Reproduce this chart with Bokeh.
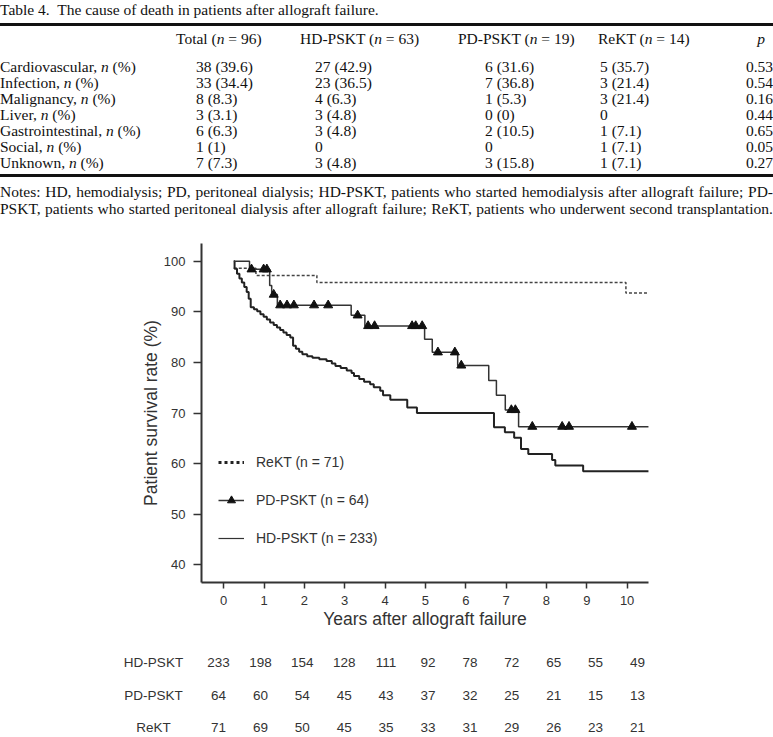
import numpy as np
from bokeh.plotting import figure
from bokeh.models import Range1d, FixedTicker, Legend, LegendItem, Div, ColumnDataSource
from bokeh.layouts import column
from bokeh.core.properties import value
from bokeh.embed import file_html
from bokeh.resources import INLINE

# ---------------- table data ----------------
CAPTION = "Table 4.&nbsp; The cause of death in patients after allograft failure."
GROUPS = ["Total", "HD-PSKT", "PD-PSKT", "ReKT"]
GROUP_N = [96, 63, 19, 14]
CAUSES = ["Cardiovascular", "Infection", "Malignancy", "Liver",
          "Gastrointestinal", "Social", "Unknown"]
TOTAL = ["38 (39.6)", "33 (34.4)", "8 (8.3)", "3 (3.1)", "6 (6.3)", "1 (1)", "7 (7.3)"]
HD_DEATHS = ["27 (42.9)", "23 (36.5)", "4 (6.3)", "3 (4.8)", "3 (4.8)", "0", "3 (4.8)"]
PD_DEATHS = ["6 (31.6)", "7 (36.8)", "1 (5.3)", "0 (0)", "2 (10.5)", "0", "3 (15.8)"]
REKT_DEATHS = ["5 (35.7)", "3 (21.4)", "3 (21.4)", "0", "1 (7.1)", "1 (7.1)", "1 (7.1)"]
P_VALUES = ["0.53", "0.54", "0.16", "0.44", "0.65", "0.05", "0.27"]
NOTES = ["Notes: HD, hemodialysis; PD, peritoneal dialysis; HD-PSKT, patients who started hemodialysis after allograft failure; PD-",
         "PSKT, patients who started peritoneal dialysis after allograft failure; ReKT, patients who underwent second transplantation."]

# ---------------- survival curves (years, %) ----------------
HD_T = [0.25, 0.27, 0.33, 0.39, 0.45, 0.51, 0.57, 0.62, 0.67, 0.75, 0.83, 0.91, 0.99, 1.07,
        1.15, 1.24, 1.32, 1.40, 1.48, 1.56, 1.65, 1.72, 1.79, 1.87, 1.95, 2.07, 2.20, 2.37,
        2.55, 2.68, 2.77, 2.90, 3.05, 3.17, 3.23, 3.36, 3.48, 3.63, 3.72, 3.88, 3.95, 4.13,
        4.55, 4.79, 6.70, 6.97, 7.20, 7.37, 7.55, 8.14, 8.22, 8.91]
HD_S = [100, 98.5, 97.5, 96.6, 95.8, 94.9, 93.9, 92.6, 90.9, 90.5, 90.1, 89.5, 89.0, 88.5,
        87.9, 87.4, 86.9, 86.4, 85.9, 85.4, 84.9, 83.3, 82.7, 82.1, 81.6, 81.2, 80.9, 80.6,
        80.3, 79.8, 79.3, 78.9, 78.4, 77.9, 77.3, 76.7, 76.2, 75.7, 75.1, 74.4, 73.5, 72.6,
        71.1, 70.0, 67.2, 66.2, 65.1, 62.9, 61.9, 60.7, 59.6, 58.5]
PD_T = [0.25, 0.64, 1.14, 1.19, 1.33, 3.16, 3.50, 4.98, 5.17, 5.80, 6.57, 6.76, 6.98, 7.31]
PD_S = [100, 98.4, 95.2, 93.4, 91.3, 89.3, 87.2, 84.6, 82.0, 79.4, 76.4, 73.5, 70.6, 67.3]
PD_CENSOR = [0.69, 0.99, 1.07, 1.24, 1.40, 1.57, 1.74, 2.24, 2.59, 3.32, 3.58, 3.74, 4.67,
             4.76, 4.92, 5.31, 5.73, 5.89, 7.13, 7.23, 7.65, 8.39, 8.56, 10.12]
RK_T = [0.25, 0.80, 2.31, 9.97]
RK_S = [98.6, 97.2, 95.8, 93.7]
END_T = 10.54

X_TICKS = list(range(0, 11))
Y_TICKS = [40, 50, 60, 70, 80, 90, 100]
LEGEND_LABELS = ["ReKT (n = 71)", "PD-PSKT (n = 64)", "HD-PSKT (n = 233)"]

# ---------------- numbers at risk ----------------
RISK_YEARS = list(range(0, 11))
RISK_GROUPS = ["HD-PSKT", "PD-PSKT", "ReKT"]
RISK_HD = [233, 198, 154, 128, 111, 92, 78, 72, 65, 55, 49]
RISK_PD = [64, 60, 54, 45, 43, 37, 32, 25, 21, 15, 13]
RISK_REKT = [71, 69, 50, 45, 35, 33, 31, 29, 26, 23, 21]

# ================= table (HTML) =================
SERIF = "'Liberation Serif', 'Times New Roman', serif"
parts = []


def cell(ctr, html, left=None, right=None):
    pos = f"left:{left}px;" if right is None else f"right:{right}px;"
    parts.append(f'<div style="position:absolute;{pos}top:{ctr - 8}px;line-height:16px;'
                 f'white-space:nowrap;">{html}</div>')


def rule(top, h):
    parts.append(f'<div style="position:absolute;left:0;top:{top}px;width:773px;'
                 f'height:{h}px;background:#111;"></div>')


HEAD_X = [176, 300, 458, 598]
VAL_X = [196, 315, 485, 600]
cell(10, CAPTION, left=0)
rule(23, 2.5)
for hx, g, n in zip(HEAD_X, GROUPS, GROUP_N):
    cell(39, f"{g} (<i>n</i> = {n})", left=hx)
cell(39, "<i>p</i>", right=8)
cols = [TOTAL, HD_DEATHS, PD_DEATHS, REKT_DEATHS]
for i, cause in enumerate(CAUSES):
    ctr = 67 + 16 * i
    cell(ctr, f"{cause}, <i>n</i> (%)", left=0)
    for vx, col in zip(VAL_X, cols):
        cell(ctr, col[i], left=vx)
    cell(ctr, P_VALUES[i], right=0)
rule(174, 3)
for k, line in enumerate(NOTES):
    parts.append(f'<div style="position:absolute;left:0;top:{184 + 17 * k}px;width:773px;'
                 f'line-height:16px;white-space:nowrap;text-align:justify;'
                 f'text-align-last:justify;">{line}</div>')

html = (f'<div style="position:relative;width:773px;height:237px;font-family:{SERIF};'
        f'font-size:15.5px;color:#111;">' + "".join(parts) + '</div>')
table_div = Div(text=html, width=773, height=237, margin=(0, 0, 0, 0))

# ================= survival chart =================
SANS = "Liberation Sans"
p = figure(width=773, height=400, x_range=Range1d(-0.55, 10.53), y_range=Range1d(36.5, 103.5),
           output_backend="svg", toolbar_location=None,
           min_border_left=201, min_border_right=125, min_border_top=6, min_border_bottom=55,
           outline_line_color=None, background_fill_color="white", border_fill_color="white")
p.grid.visible = False

for ax in (p.xaxis[0], p.yaxis[0]):
    ax.axis_line_width = 2
    ax.axis_line_color = "#333333"
    ax.major_tick_line_color = "#333333"
    ax.major_tick_line_width = 1.5
    ax.minor_tick_line_color = None
    ax.major_tick_in = 0
    ax.major_label_text_font = SANS
    ax.major_label_text_font_size = "13px"
    ax.major_label_text_color = "#333333"
    ax.axis_label_text_font = SANS
    ax.axis_label_text_font_style = "normal"
    ax.axis_label_text_color = "#333333"
    ax.axis_label_text_font_size = "17.5px"

p.xaxis.ticker = FixedTicker(ticks=X_TICKS)
p.yaxis.ticker = FixedTicker(ticks=Y_TICKS)
p.xaxis.major_tick_out = 6
p.yaxis.major_tick_out = 8
p.xaxis.major_label_standoff = 7
p.yaxis.major_label_standoff = 8
p.xaxis.axis_label_standoff = 1
p.yaxis.axis_label_standoff = 0
p.xaxis.axis_label = "Years after allograft failure"
p.yaxis.axis_label = "Patient survival rate (%)"


def closed(t, s):
    return list(t) + [END_T], list(s) + [s[-1]]


x, y = closed(RK_T, RK_S)
p.step(x, y, mode="after", line_color="#444444", line_width=1.5, line_dash="3 2")
x, y = closed(HD_T, HD_S)
p.step(x, y, mode="after", line_color="#222222", line_width=2)
x, y = closed(PD_T, PD_S)
p.step(x, y, mode="after", line_color="#333333", line_width=1.5)

pd_t = np.array(PD_T)
pd_s = np.array(PD_S)
cens_y = pd_s[np.searchsorted(pd_t, np.array(PD_CENSOR), side="right") - 1]
p.scatter(PD_CENSOR, cens_y, marker="triangle", size=9, fill_color="#111111",
          line_color="#111111")

# legend glyph samples (invisible NaN data, only used for the legend)
NAN = [float("nan")]
lg_rk = p.line(NAN, NAN, line_color="#222222", line_width=3, line_dash="3 3")
lg_pd_l = p.line(NAN, NAN, line_color="#333333", line_width=1.5)
lg_pd_m = p.scatter(NAN, NAN, marker="triangle", size=11, fill_color="#111111",
                    line_color="#111111")
lg_hd = p.line(NAN, NAN, line_color="#333333", line_width=1.2)
legend = Legend(items=[LegendItem(label=LEGEND_LABELS[0], renderers=[lg_rk]),
                       LegendItem(label=LEGEND_LABELS[1], renderers=[lg_pd_l, lg_pd_m]),
                       LegendItem(label=LEGEND_LABELS[2], renderers=[lg_hd])],
                location=(17, 34), padding=0, margin=0, spacing=18,
                glyph_width=26, glyph_height=20, label_height=20, label_standoff=12,
                label_text_font=SANS, label_text_font_size="14px", label_text_color="#333333",
                border_line_alpha=0, background_fill_alpha=0)
p.add_layout(legend)

# ================= numbers at risk =================
RX0, RPX = 218.0, 41.9          # pixel of year 0 and pixels per year
ROW0, RPITCH, RH = 25.0, 32.5, 100
HAS_FA = "frame_align" in p.properties()
risk_kw = dict(width=773, height=RH, output_backend="svg", toolbar_location=None,
               outline_line_color=None, background_fill_color="white",
               border_fill_color="white",
               y_range=Range1d((RH - ROW0) / RPITCH, -ROW0 / RPITCH))
if HAS_FA:
    r = figure(x_range=Range1d(-RX0 / RPX, (773 - RX0) / RPX), min_border=0,
               x_axis_location=None, y_axis_location=None, **risk_kw)
    p.frame_align = False
    r.frame_align = False
else:
    FL, FR = 201, 648
    r = figure(x_range=Range1d((FL - RX0) / RPX, (FR - RX0) / RPX),
               min_border_left=FL, min_border_right=773 - FR, min_border_top=0,
               min_border_bottom=0, x_axis_location=None, **risk_kw)
    r.yaxis.ticker = FixedTicker(ticks=[0, 1, 2])
    r.yaxis.major_label_overrides = {i: g for i, g in enumerate(RISK_GROUPS)}
    r.yaxis.axis_line_color = None
    r.yaxis.major_tick_line_color = None
    r.yaxis.minor_tick_line_color = None
    r.yaxis.major_label_standoff = 17
    r.yaxis.major_label_text_font = SANS
    r.yaxis.major_label_text_font_size = "13.5px"
    r.yaxis.major_label_text_color = "#333333"
r.grid.visible = False

xs, ys, ts = [], [], []
for i, counts in enumerate([RISK_HD, RISK_PD, RISK_REKT]):
    xs += RISK_YEARS
    ys += [i] * len(RISK_YEARS)
    ts += [str(c) for c in counts]
r.text(x="x", y="y", text="t", source=ColumnDataSource(dict(x=xs, y=ys, t=ts)),
       text_align="center", text_baseline="middle", text_font=value(SANS),
       text_font_size="13.5px", text_color="#333333")
if HAS_FA:
    lab_x = (153 - RX0) / RPX
    r.text(x=[lab_x] * 3, y=[0, 1, 2], text=RISK_GROUPS, text_align="center",
           text_baseline="middle", text_font=value(SANS), text_font_size="13.5px",
           text_color="#333333")

layout = column(table_div, p, r)
open("out.html", "w").write(file_html(layout, INLINE))
